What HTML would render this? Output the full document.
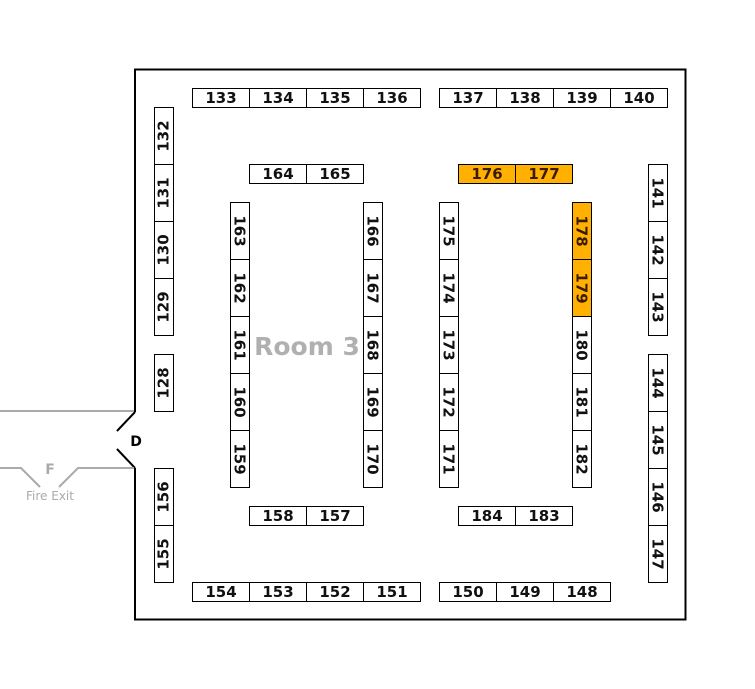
<!DOCTYPE html>
<html><head><meta charset="utf-8"><style>
body{margin:0;background:#fff;width:755px;height:689px;position:relative;overflow:hidden;font-family:"DejaVu Sans","Liberation Sans",sans-serif;}
.b{position:absolute;box-sizing:border-box;border:1px solid #000;background:#fff;font-weight:bold;font-size:15px;color:#111;display:flex;align-items:center;justify-content:center;}
.h{width:58px;height:20px;}
.v{width:20px;height:58px;}
.v span{display:inline-block;white-space:nowrap;}
.r span{transform:rotate(90deg);}
.l span{transform:rotate(-90deg);}
.o{background:#FFB000;color:#3a1a00;}
</style></head><body>
<svg width="755" height="689" style="position:absolute;left:0;top:0">
<g stroke="#000" stroke-width="2" fill="none">
<polyline points="135,412 135,69.5 685.5,69.5 685.5,619.5 135,619.5 135,468"/>
<line x1="135" y1="412" x2="117" y2="431"/>
<line x1="135" y1="468" x2="117" y2="449"/>
</g>
<g stroke="#aaa" stroke-width="2" fill="none">
<line x1="0" y1="411" x2="134" y2="411"/>
<polyline points="0,468 21,468 40,487"/>
<polyline points="59,487 78,468 134,468"/>
</g>
<text x="136" y="446" font-family="DejaVu Sans" font-weight="bold" font-size="14" fill="#000" text-anchor="middle">D</text>
<text x="50" y="474" font-family="DejaVu Sans" font-weight="bold" font-size="14" fill="#aaa" text-anchor="middle">F</text>
<text x="50" y="500" font-family="DejaVu Sans" font-size="12" fill="#aaa" text-anchor="middle">Fire Exit</text>
<text x="307" y="355" font-family="DejaVu Sans" font-weight="bold" font-size="25" fill="#b0b0b0" text-anchor="middle">Room 3</text>
</svg>
<div class="b h" style="left:192px;top:88px">133</div>
<div class="b h" style="left:249px;top:88px">134</div>
<div class="b h" style="left:306px;top:88px">135</div>
<div class="b h" style="left:363px;top:88px">136</div>
<div class="b h" style="left:439px;top:88px">137</div>
<div class="b h" style="left:496px;top:88px">138</div>
<div class="b h" style="left:553px;top:88px">139</div>
<div class="b h" style="left:610px;top:88px">140</div>
<div class="b h" style="left:249px;top:164px">164</div>
<div class="b h" style="left:306px;top:164px">165</div>
<div class="b h o" style="left:458px;top:164px">176</div>
<div class="b h o" style="left:515px;top:164px">177</div>
<div class="b v l" style="left:154px;top:107px"><span>132</span></div>
<div class="b v l" style="left:154px;top:164px"><span>131</span></div>
<div class="b v l" style="left:154px;top:221px"><span>130</span></div>
<div class="b v l" style="left:154px;top:278px"><span>129</span></div>
<div class="b v l" style="left:154px;top:354px"><span>128</span></div>
<div class="b v l" style="left:154px;top:468px"><span>156</span></div>
<div class="b v l" style="left:154px;top:525px"><span>155</span></div>
<div class="b v r" style="left:230px;top:202px"><span>163</span></div>
<div class="b v r" style="left:230px;top:259px"><span>162</span></div>
<div class="b v r" style="left:230px;top:316px"><span>161</span></div>
<div class="b v r" style="left:230px;top:373px"><span>160</span></div>
<div class="b v r" style="left:230px;top:430px"><span>159</span></div>
<div class="b v r" style="left:363px;top:202px"><span>166</span></div>
<div class="b v r" style="left:363px;top:259px"><span>167</span></div>
<div class="b v r" style="left:363px;top:316px"><span>168</span></div>
<div class="b v r" style="left:363px;top:373px"><span>169</span></div>
<div class="b v r" style="left:363px;top:430px"><span>170</span></div>
<div class="b v r" style="left:439px;top:202px"><span>175</span></div>
<div class="b v r" style="left:439px;top:259px"><span>174</span></div>
<div class="b v r" style="left:439px;top:316px"><span>173</span></div>
<div class="b v r" style="left:439px;top:373px"><span>172</span></div>
<div class="b v r" style="left:439px;top:430px"><span>171</span></div>
<div class="b v r o" style="left:572px;top:202px"><span>178</span></div>
<div class="b v r o" style="left:572px;top:259px"><span>179</span></div>
<div class="b v r" style="left:572px;top:316px"><span>180</span></div>
<div class="b v r" style="left:572px;top:373px"><span>181</span></div>
<div class="b v r" style="left:572px;top:430px"><span>182</span></div>
<div class="b v r" style="left:648px;top:164px"><span>141</span></div>
<div class="b v r" style="left:648px;top:221px"><span>142</span></div>
<div class="b v r" style="left:648px;top:278px"><span>143</span></div>
<div class="b v r" style="left:648px;top:354px"><span>144</span></div>
<div class="b v r" style="left:648px;top:411px"><span>145</span></div>
<div class="b v r" style="left:648px;top:468px"><span>146</span></div>
<div class="b v r" style="left:648px;top:525px"><span>147</span></div>
<div class="b h" style="left:249px;top:506px">158</div>
<div class="b h" style="left:306px;top:506px">157</div>
<div class="b h" style="left:458px;top:506px">184</div>
<div class="b h" style="left:515px;top:506px">183</div>
<div class="b h" style="left:192px;top:582px">154</div>
<div class="b h" style="left:249px;top:582px">153</div>
<div class="b h" style="left:306px;top:582px">152</div>
<div class="b h" style="left:363px;top:582px">151</div>
<div class="b h" style="left:439px;top:582px">150</div>
<div class="b h" style="left:496px;top:582px">149</div>
<div class="b h" style="left:553px;top:582px">148</div>
</body></html>
